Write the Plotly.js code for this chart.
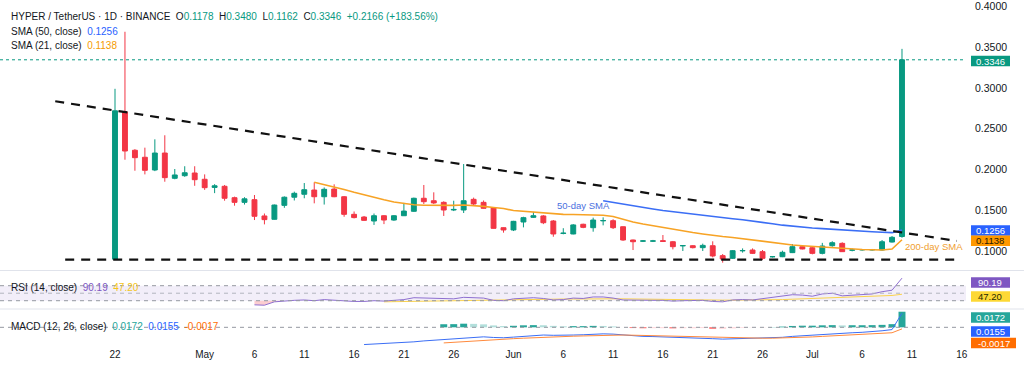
<!DOCTYPE html>
<html><head><meta charset="utf-8">
<script src="https://cdn.plot.ly/plotly-3.0.1.min.js"></script>
<style>html,body{margin:0;padding:0;background:#fff;}#c{width:1024px;height:373px;}</style>
</head><body><div id="c"></div>
<script>
const dates = ['2025-04-22','2025-04-23','2025-04-24','2025-04-25','2025-04-26','2025-04-27','2025-04-28','2025-04-29','2025-04-30',
'2025-05-01','2025-05-02','2025-05-03','2025-05-04','2025-05-05','2025-05-06','2025-05-07','2025-05-08','2025-05-09','2025-05-10',
'2025-05-11','2025-05-12','2025-05-13','2025-05-14','2025-05-15','2025-05-16','2025-05-17','2025-05-18','2025-05-19','2025-05-20',
'2025-05-21','2025-05-22','2025-05-23','2025-05-24','2025-05-25','2025-05-26','2025-05-27','2025-05-28','2025-05-29','2025-05-30',
'2025-05-31','2025-06-01','2025-06-02','2025-06-03','2025-06-04','2025-06-05','2025-06-06','2025-06-07','2025-06-08','2025-06-09',
'2025-06-10','2025-06-11','2025-06-12','2025-06-13','2025-06-14','2025-06-15','2025-06-16','2025-06-17','2025-06-18','2025-06-19',
'2025-06-20','2025-06-21','2025-06-22','2025-06-23','2025-06-24','2025-06-25','2025-06-26','2025-06-27','2025-06-28','2025-06-29',
'2025-06-30','2025-07-01','2025-07-02','2025-07-03','2025-07-04','2025-07-05','2025-07-06','2025-07-07','2025-07-08','2025-07-09',
'2025-07-10'];
const open  = [0.0900,0.2706,0.2236,0.2150,0.1994,0.2202,0.1892,0.1924,0.1957,0.1880,0.1780,0.1794,0.1654,0.1597,0.1630,0.1430,0.1389,0.1560,0.1660,0.1696,
0.1748,0.1666,0.1760,0.1666,0.1450,0.1417,0.1368,0.1433,0.1380,0.1433,0.1487,0.1647,0.1617,0.1597,0.1503,0.1503,0.1634,0.1597,0.1531,0.1286,
0.1258,0.1356,0.1413,0.1430,0.1368,0.1215,0.1209,0.1328,0.1286,0.1370,0.1372,0.1298,0.1135,0.1121,0.1121,0.1127,0.1114,0.1063,0.1065,0.1041,
0.1065,0.0943,0.0910,0.1002,0.1012,0.0992,0.0929,0.0930,0.0980,0.1053,0.1040,0.0971,0.1065,0.1094,0.1010,0.1014,0.1014,0.1012,0.1110,0.1178];
const high  = [0.2990,0.3690,0.2250,0.2268,0.2370,0.2420,0.2006,0.2040,0.2040,0.1940,0.1820,0.1810,0.1667,0.1660,0.1687,0.1460,0.1570,0.1670,0.1728,0.1834,
0.1843,0.1780,0.1818,0.1675,0.1485,0.1430,0.1460,0.1440,0.1440,0.1590,0.1655,0.1810,0.1720,0.1610,0.1617,0.2067,0.1655,0.1620,0.1535,0.1290,
0.1370,0.1420,0.1480,0.1440,0.1380,0.1280,0.1330,0.1335,0.1409,0.1413,0.1390,0.1300,0.1140,0.1135,0.1136,0.1196,0.1123,0.1072,0.1072,0.1090,
0.1119,0.0963,0.1012,0.1032,0.1032,0.1012,0.0937,0.1004,0.1086,0.1066,0.1053,0.1100,0.1120,0.1107,0.1030,0.1025,0.1025,0.1135,0.1184,0.3480];
const low   = [0.0890,0.2120,0.1985,0.1940,0.1980,0.1850,0.1880,0.1910,0.1800,0.1750,0.1710,0.1617,0.1556,0.1570,0.1380,0.1327,0.1385,0.1530,0.1620,0.1647,
0.1585,0.1570,0.1660,0.1420,0.1400,0.1370,0.1320,0.1330,0.1370,0.1430,0.1480,0.1577,0.1577,0.1430,0.1490,0.1466,0.1560,0.1520,0.1275,0.1225,
0.1245,0.1290,0.1405,0.1330,0.1175,0.1205,0.1205,0.1280,0.1237,0.1315,0.1270,0.1125,0.1012,0.1110,0.1110,0.1110,0.1020,0.1000,0.1032,0.1000,
0.0922,0.0857,0.0902,0.0980,0.0963,0.0890,0.0920,0.0925,0.0975,0.1020,0.0959,0.0959,0.1053,0.0988,0.0996,0.1005,0.1005,0.1004,0.1104,0.1162];
const close = [0.2720,0.2227,0.2145,0.1990,0.2202,0.1900,0.1933,0.1960,0.1875,0.1777,0.1800,0.1647,0.1597,0.1640,0.1426,0.1385,0.1564,0.1660,0.1708,0.1752,
0.1666,0.1757,0.1666,0.1450,0.1410,0.1376,0.1433,0.1380,0.1433,0.1490,0.1647,0.1605,0.1590,0.1503,0.1510,0.1617,0.1577,0.1524,0.1278,0.1258,
0.1364,0.1409,0.1433,0.1347,0.1209,0.1219,0.1320,0.1290,0.1380,0.1374,0.1286,0.1135,0.1114,0.1124,0.1124,0.1118,0.1053,0.1067,0.1041,0.1069,
0.0939,0.0902,0.1004,0.1006,0.0971,0.0910,0.0931,0.0984,0.1053,0.1025,0.0971,0.1061,0.1102,0.0992,0.1013,0.1017,0.1017,0.1114,0.1168,0.3346];

// SMA 21 (from 2025-05-12) and SMA 50 (from 2025-06-10)
const sma21 = [0.1844,0.1816,0.1785,0.1755,0.1720,0.1687,0.1656,0.1628,0.1601,0.1583,0.1568,0.1562,0.1560,0.1558,0.1560,0.1564,0.1558,0.1548,0.1534,0.1521,
0.1497,0.1487,0.1479,0.1466,0.1456,0.1450,0.1447,0.1444,0.1442,0.1438,0.1423,0.1387,0.1356,0.1331,0.1309,0.1291,0.1270,0.1252,0.1227,0.1209,
0.1190,0.1178,0.1166,0.1150,0.1135,0.1117,0.1101,0.1086,0.1074,0.1064,0.1055,0.1049,0.1039,0.1031,0.1022,0.1018,0.1015,0.1012,0.1025,0.1138];
const sma50 = [0.1617,0.1595,0.1573,0.1553,0.1534,0.1515,0.1497,0.1482,0.1463,0.1448,0.1434,0.1420,0.1407,0.1395,0.1383,0.1369,0.1351,0.1334,0.1317,0.1304,
0.1293,0.1283,0.1275,0.1266,0.1258,0.1250,0.1243,0.1237,0.1231,0.1225,0.1256];

// RSI 14 (from 2025-05-06) and its MA (from 2025-05-19)
const rsi = [19,18,27,30,31,32,30,33,31,28,
28,28,30,29,31,33,38,37,36,34,
35,39,38,37,31,30,35,37,38,36,
32,33,37,36,40,40,37,32,31,31,
31,31,29,30,30,31,28,27,32,33,
32,36,38,42,46,45,42,48,50,43,
45,45,48,54,58,90.19];
const rsiMa = [27,27.5,28,28.5,29,29.5,30,30.5,31,31.5,
32,32.5,33,33.5,34,34.5,34.5,34.5,34.5,34.5,
35,35,35,35,35,34.5,34,34,33.5,33,
33,33,32.5,32,31.5,31.5,31.5,31.5,32,32.5,
33,34,35,36,37,38,39,40,41,42,
43,44,47.2];
// MACD (from 2025-05-17), signal (from 2025-05-25)
const macd = [-0.0190,-0.0185,-0.0180,-0.0175,-0.0168,-0.0160,-0.0150,-0.0142,-0.0138,-0.0130,-0.0115,-0.0108,-0.0105,-0.0112,-0.0115,-0.0108,-0.0098,-0.0090,
-0.0085,-0.0088,-0.0090,-0.0085,-0.0082,-0.0075,-0.0072,-0.0075,-0.0085,-0.0095,-0.0100,-0.0102,-0.0105,-0.0110,-0.0112,-0.0115,-0.0115,-0.0125,
-0.0130,-0.0128,-0.0125,-0.0122,-0.0122,-0.0118,-0.0110,-0.0100,-0.0092,-0.0088,-0.0078,-0.0070,-0.0068,-0.0060,-0.0055,-0.0048,-0.0038,-0.0025,0.0155];
const signal = [-0.0172,-0.0165,-0.0155,-0.0146,-0.0138,-0.0133,-0.0129,-0.0125,-0.0120,-0.0114,-0.0108,-0.0104,-0.0101,-0.0098,-0.0095,-0.0091,-0.0087,
-0.0085,-0.0085,-0.0087,-0.0090,-0.0093,-0.0096,-0.0099,-0.0102,-0.0105,-0.0107,-0.0110,-0.0115,-0.0117,-0.0119,-0.0120,-0.0120,-0.0120,-0.0118,
-0.0115,-0.0110,-0.0106,-0.0100,-0.0094,-0.0089,-0.0083,-0.0078,-0.0072,-0.0065,-0.0060,-0.0017];

const tickDates = ['2025-04-22','2025-05-01','2025-05-06','2025-05-11','2025-05-16','2025-05-21','2025-05-26','2025-06-01','2025-06-06','2025-06-11','2025-06-16','2025-06-21','2025-06-26','2025-07-01','2025-07-06','2025-07-11','2025-07-16'];
const tickText  = ['22','May','6','11','16','21','26','Jun','6','11','16','21','26','Jul','6','11','16'];
const priceTicks = [0.10,0.15,0.20,0.25,0.30,0.35,0.40];

const FONT = 'Liberation Sans, Arial, sans-serif';
const UP = '#089981', DN = '#f23645';
const H = 373, T = 2, B = 26, PH = H - T - B;
const py = p => (H - B - p) / PH;      // pixel row -> paper y
const px = p => p / 966;               // pixel col -> paper x

const macdX = dates.slice(dates.length - macd.length);
const sigX = dates.slice(dates.length - signal.length);
const rsiX = dates.slice(dates.length - rsi.length);
const hist = signal.map((s, i) => macd[macd.length - signal.length + i] - s);
const histCol = hist.map((h, i) => {
  const prev = i > 0 ? hist[i - 1] : h;
  if (h >= 0) return h >= prev ? '#26a69a' : '#b2dfdb';
  return h < prev ? '#ff5252' : '#ffcdd2';
});
const osN = 5;
const osX = rsiX.slice(0, osN);
const osLow = rsi.slice(0, osN).map(v => Math.min(v, 30));

const traces = [
  {type:'candlestick', x:dates, open:open, high:high, low:low, close:close, xaxis:'x', yaxis:'y',
   increasing:{line:{color:UP, width:1}, fillcolor:UP}, decreasing:{line:{color:DN, width:1}, fillcolor:DN},
   whiskerwidth:0, hoverinfo:'skip'},
  {type:'scatter', mode:'lines', x:dates.slice(dates.length - sma21.length), y:sma21, yaxis:'y',
   line:{color:'#f7a325', width:1.6}, hoverinfo:'skip'},
  {type:'scatter', mode:'lines', x:dates.slice(dates.length - sma50.length), y:sma50, yaxis:'y',
   line:{color:'#3b6ef5', width:1.6}, hoverinfo:'skip'},
  {type:'scatter', mode:'lines', x:osX, y:osX.map(() => 30), yaxis:'y2', line:{width:0}, hoverinfo:'skip'},
  {type:'scatter', mode:'lines', x:osX, y:osLow, yaxis:'y2', line:{width:0}, fill:'tonexty', fillcolor:'rgba(242,54,69,0.25)', hoverinfo:'skip'},
  {type:'scatter', mode:'lines', x:dates.slice(dates.length - rsiMa.length), y:rsiMa, yaxis:'y2',
   line:{color:'#fbd34d', width:1}, hoverinfo:'skip'},
  {type:'scatter', mode:'lines', x:rsiX, y:rsi, yaxis:'y2',
   line:{color:'#8e6fd0', width:1}, hoverinfo:'skip'},
  {type:'bar', x:sigX, y:hist, yaxis:'y3', marker:{color:histCol, line:{width:0}}, hoverinfo:'skip'},
  {type:'scatter', mode:'lines', x:macdX, y:macd, yaxis:'y3', line:{color:'#3b6ef5', width:1}, hoverinfo:'skip'},
  {type:'scatter', mode:'lines', x:sigX, y:signal, yaxis:'y3', line:{color:'#ff8a3d', width:1}, hoverinfo:'skip'}
];

const shapes = [
  {type:'rect', xref:'paper', x0:0, x1:1, yref:'y2', y0:30, y1:70, fillcolor:'rgba(126,87,194,0.10)', line:{width:0}, layer:'below'},
  {type:'line', xref:'paper', x0:0, x1:1, yref:'y2', y0:70, y1:70, line:{color:'#9598a1', width:1, dash:'4px,4px'}},
  {type:'line', xref:'paper', x0:0, x1:1, yref:'y2', y0:50, y1:50, line:{color:'#b2b5be', width:1, dash:'4px,4px'}},
  {type:'line', xref:'paper', x0:0, x1:1, yref:'y2', y0:30, y1:30, line:{color:'#9598a1', width:1, dash:'4px,4px'}},
  {type:'line', xref:'paper', x0:0, x1:1, yref:'y3', y0:0, y1:0, line:{color:'#9598a1', width:1, dash:'4px,4px'}},
  {type:'line', xref:'paper', x0:0, x1:1.06, yref:'paper', y0:py(270.5), y1:py(270.5), line:{color:'#e0e3eb', width:1}},
  {type:'line', xref:'paper', x0:0, x1:1.06, yref:'paper', y0:py(309), y1:py(309), line:{color:'#e0e3eb', width:1}},
  {type:'line', xref:'paper', x0:0, x1:1, yref:'y', y0:close[close.length-1], y1:close[close.length-1], line:{color:UP, width:1, dash:'dot'}},
  {type:'line', xref:'x', yref:'y', x0:'2025-04-16', y0:0.2837, x1:'2025-07-15 12:00', y1:0.1123, line:{color:'#111', width:2.2, dash:'9px,7px'}},
  {type:'line', xref:'x', yref:'y', x0:'2025-04-17', y0:0.0895, x1:'2025-07-15 12:00', y1:0.0895, line:{color:'#111', width:2.2, dash:'9px,7px'}}
];

// right-axis value boxes
const boxes = [
  {t:'0.3346', c:UP, f:'#fff', y:61},
  {t:'0.1256', c:'#2962ff', f:'#fff', y:230.5},
  {t:'0.1138', c:'#ff9800', f:'#2a1a00', y:240.8},
  {t:'90.19', c:'#7e57c2', f:'#fff', y:282.5},
  {t:'47.20', c:'#fdd835', f:'#2a2a00', y:296.5},
  {t:'0.0172', c:'#26a69a', f:'#fff', y:317.5},
  {t:'0.0155', c:'#2962ff', f:'#fff', y:331.5},
  {t:'-0.0017', c:'#ff6d00', f:'#fff', y:343}
];
const annotations = [];
boxes.forEach(b => {
  const wide = b.t.length > 6;
  shapes.push({type:'rect', xref:'paper', yref:'paper', x0:px(971), x1:px(wide ? 1016 : 1010),
    y0:py(b.y + 5.2), y1:py(b.y - 5.2), fillcolor:b.c, line:{width:0}});
  annotations.push({xref:'paper', yref:'paper', x:px(wide ? 993.5 : 990.5), y:py(b.y), text:b.t, showarrow:false,
    xanchor:'center', yanchor:'middle', font:{family:FONT, size:9.5, color:b.f}});
});

const dk = '#131722';
const leg = (x, y, text) => annotations.push({xref:'paper', yref:'paper', x:px(x), y:py(y), xanchor:'left', yanchor:'middle',
  text:text, showarrow:false, font:{family:FONT, size:10, color:dk}});
const c = (col, t) => '<span style="color:' + col + '">' + t + '</span>';
leg(9, 16, 'HYPER / TetherUS · 1D · BINANCE  O' + c(UP,'0.1178') + '  H' + c(UP,'0.3480') + '  L' + c(UP,'0.1162') + '  C' + c(UP,'0.3346') + '  ' + c(UP,'+0.2166 (+183.56%)'));
leg(9, 31, 'SMA (50, close)  ' + c('#2962ff','0.1256'));
leg(9, 46, 'SMA (21, close)  ' + c('#f59b00','0.1138'));
leg(9, 287, 'RSI (14, close)  ' + c('#7e57c2','90.19') + '  ' + c('#f5c518','47.20'));
leg(9, 326, 'MACD (12, 26, close)  ' + c('#26a69a','0.0172') + '  ' + c('#2962ff','0.0155') + '  ' + c('#ff6d00','-0.0017'));
annotations.push({xref:'paper', yref:'paper', x:px(555), y:py(206), xanchor:'left', yanchor:'middle', text:'50-day SMA', showarrow:false,
  font:{family:FONT, size:9.5, color:'#4a6fe0'}});
annotations.push({xref:'paper', yref:'paper', x:px(903), y:py(246.5), xanchor:'left', yanchor:'middle', text:'200-day SMA', showarrow:false,
  font:{family:FONT, size:9.5, color:'#f0a030'}});

const layout = {
  width:1024, height:373, margin:{l:0, r:58, t:T, b:B},
  paper_bgcolor:'#fff', plot_bgcolor:'#fff', showlegend:false, bargap:0.3,
  font:{family:FONT, size:10, color:dk},
  xaxis:{type:'date', range:['2025-04-10 10:57','2025-07-16 10:12'], anchor:'y3', showgrid:false, zeroline:false,
    tickvals:tickDates, ticktext:tickText, ticks:'', tickfont:{family:FONT, size:10, color:dk}, rangeslider:{visible:false},
    showline:false, fixedrange:true},
  yaxis:{domain:[py(270), py(2)], range:[0.0767, 0.4055], side:'right', showgrid:false, zeroline:false,
    tickvals:priceTicks, ticktext:priceTicks.map(v => v.toFixed(4)), ticks:'', ticklabelstandoff:8, ticklabelshift:-1.5,
    tickfont:{family:FONT, size:10.5, color:dk}},
  yaxis2:{domain:[py(309), py(271)], range:[7.9, 109.2], side:'right', showgrid:false, zeroline:false, showticklabels:false},
  yaxis3:{domain:[py(347), py(309)], range:[-0.0217, 0.0202], side:'right', showgrid:false, zeroline:false, showticklabels:false},
  shapes:shapes, annotations:annotations
};
Plotly.newPlot('c', traces, layout, {staticPlot:true, displayModeBar:false});
</script>
</body></html>
